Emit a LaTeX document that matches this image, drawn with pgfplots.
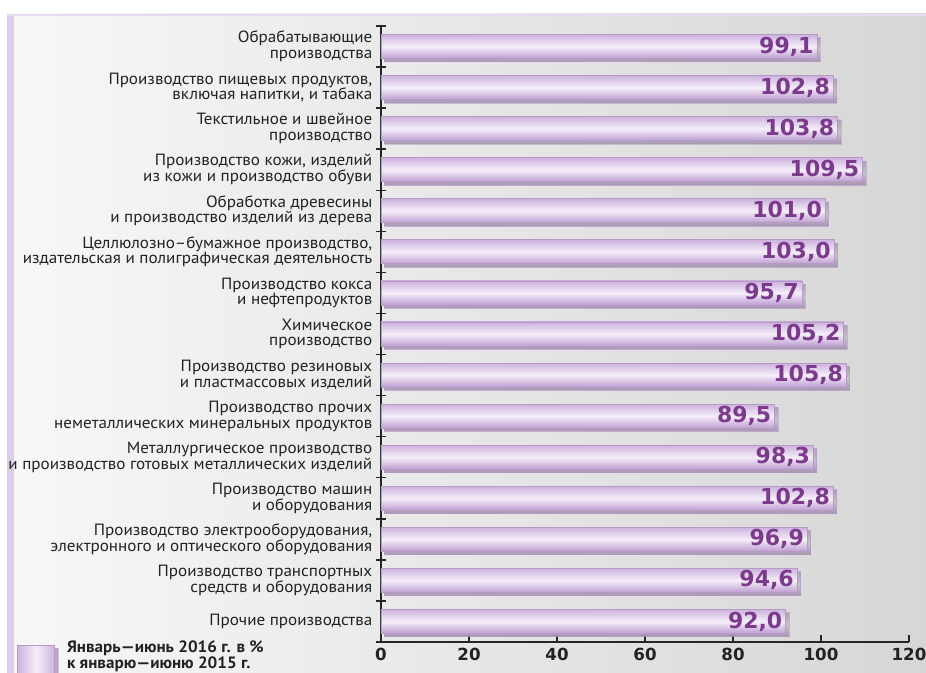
\documentclass[border=0pt]{standalone}
\usepackage{pgfplots}
\pgfplotsset{compat=1.18}
\usepackage{fontspec}
\setmainfont{PT Sans}
\newfontfamily\lblfont[FakeStretch=1.05]{PT Sans}
\newfontfamily\legfont[FakeStretch=1.04]{PT Sans}
\newfontfamily\valfont{DejaVu Sans}
\usetikzlibrary{shadows}
\definecolor{lav}{HTML}{DCCDE8}
\definecolor{bartop}{HTML}{CDB2DE}
\definecolor{barmid}{HTML}{F5EEF9}
\definecolor{barbot}{HTML}{BE9ED2}
\definecolor{bardraw}{HTML}{B49AC4}
\definecolor{valcol}{HTML}{7B3A8C}
\definecolor{txt}{HTML}{222222}
\pgfplotsset{
  mybar/.style={
    draw=bardraw, line width=0.6pt,
    top color=bartop, bottom color=barbot, middle color=barmid,
    drop shadow={shadow xshift=2.5pt, shadow yshift=-2.5pt, opacity=0.55, fill=black!70},
    nodes near coords={\pgfmathprintnumber[fixed,fixed zerofill,precision=1,use comma]{\pgfplotspointmeta}},
    every node near coord/.append style={anchor=east, xshift=1pt, font=\valfont\bfseries\fontsize{16.5}{16.5}\selectfont, text=valcol},
  },
}
\begin{document}
\begin{tikzpicture}[x=1pt,y=1pt]
\useasboundingbox (0,0) rectangle (694.5,504.75);
\fill[white] (0,0) rectangle (694.5,504.75);
\shade[left color=black!3, right color=black!16] (5.25,0) rectangle (694.5,494.25);
\fill[lav] (5.25,0) rectangle (10.5,494.25);
\fill[lav!70] (5.25,492.75) rectangle (694.5,494.25);
\begin{axis}[
  at={(285.75pt,23.25pt)}, anchor=south west,
  scale only axis, width=396pt, height=462pt,
  xbar, bar width=18pt, bar shift=0pt,
  xmin=0, xmax=120, ymin=-0.5, ymax=14.5,
  axis lines*=left,
  axis line style={line width=1.1pt, black!85},
  xtick={0,20,...,120},
  xtick align=inside,
  x tick style={line width=1.1pt, black!85},
  major tick length=5pt,
  /pgf/number format/assume math mode=true,
  x tick label style={font=\valfont\bfseries\fontsize{12.5}{12.5}\selectfont, text=txt, yshift=-1pt},
  ytick={0,...,14},
  y tick style={draw=none},
  yticklabels={
    {Прочие производства},
    {Производство транспортных\\средств и оборудования},
    {Производство электрооборудования,\\электронного и оптического оборудования},
    {Производство машин\\и оборудования},
    {Металлургическое производство\\и производство готовых металлических изделий},
    {Производство прочих\\неметаллических минеральных продуктов},
    {Производство резиновых\\и пластмассовых изделий},
    {Химическое\\производство},
    {Производство кокса\\и нефтепродуктов},
    {Целлюлозно–бумажное производство,\\издательская и полиграфическая деятельность},
    {Обработка древесины\\и производство изделий из дерева},
    {Производство кожи, изделий\\из кожи и производство обуви},
    {Текстильное и швейное\\производство},
    {Производство пищевых продуктов,\\включая напитки, и табака},
    {Обрабатывающие\\производства}
  },
  y tick label style={align=right, font=\lblfont\fontsize{12.2}{11.8}\selectfont, text=txt, xshift=2pt},
  extra y ticks={-0.5,0.5,...,14.5},
  extra y tick labels={},
  extra y tick style={y tick style={draw=black!85, line width=1.1pt}, major tick length=7pt, ytick align=center},
  clip=false,
  legend style={at={(axis description cs:-0.69,0.006)}, anchor=north west, draw=none, fill=none,
    font=\legfont\bfseries\fontsize{12.3}{11.5}\selectfont, text=txt, inner sep=0pt, column sep=7pt,
    cells={align=left}},
  legend cell align=left,
]
\addplot[mybar,
  legend image code/.code={\draw[draw=bardraw, line width=0.6pt, left color=bartop, right color=bartop, middle color=barmid] (0pt,-13pt) rectangle (28pt,8pt);},
] coordinates {(99.1,14)};
\addlegendentry{Январь—июнь 2016 г. в \%\\к январю—июню 2015 г.}
\addplot[mybar, forget plot] coordinates {(102.8,13)};
\addplot[mybar, forget plot] coordinates {(103.8,12)};
\addplot[mybar, forget plot] coordinates {(109.5,11)};
\addplot[mybar, forget plot] coordinates {(101.0,10)};
\addplot[mybar, forget plot] coordinates {(103.0,9)};
\addplot[mybar, forget plot] coordinates {(95.7,8)};
\addplot[mybar, forget plot] coordinates {(105.2,7)};
\addplot[mybar, forget plot] coordinates {(105.8,6)};
\addplot[mybar, forget plot] coordinates {(89.5,5)};
\addplot[mybar, forget plot] coordinates {(98.3,4)};
\addplot[mybar, forget plot] coordinates {(102.8,3)};
\addplot[mybar, forget plot] coordinates {(96.9,2)};
\addplot[mybar, forget plot] coordinates {(94.6,1)};
\addplot[mybar, forget plot] coordinates {(92.0,0)};
\end{axis}
\end{tikzpicture}
\end{document}
